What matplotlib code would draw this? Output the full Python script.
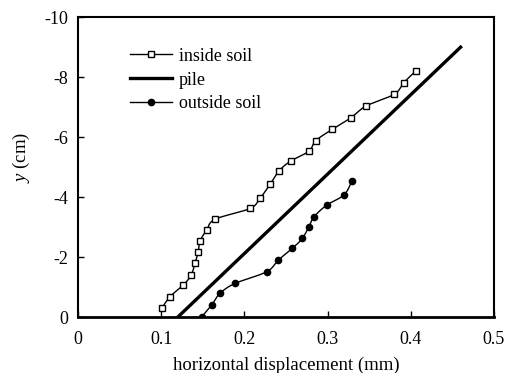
import numpy as np
import matplotlib
matplotlib.use("Agg")
import matplotlib.pyplot as plt

plt.rcParams['font.family'] = ['Liberation Serif', 'DejaVu Serif']
plt.rcParams['mathtext.fontset'] = 'custom'
plt.rcParams['mathtext.it'] = 'Liberation Serif:italic'
plt.rcParams['mathtext.rm'] = 'Liberation Serif'

# measured displacement profiles (x in mm, depth y in cm)
inside_x = [0.1006, 0.1106, 0.1266, 0.136, 0.1406, 0.1446, 0.1466, 0.1547, 0.1647,
            0.2067, 0.2188, 0.2308, 0.2416, 0.2556, 0.2776, 0.2857, 0.3057, 0.3278,
            0.3458, 0.3802, 0.3918, 0.4063]
inside_y = [-0.29, -0.68, -1.07, -1.4, -1.79, -2.18, -2.53, -2.9, -3.26,
            -3.62, -3.96, -4.42, -4.87, -5.2, -5.53, -5.88, -6.26, -6.64,
            -7.03, -7.43, -7.82, -8.21]

pile_x = [0.12, 0.46]
pile_y = [0.0, -9.0]

outside_x = [0.1486, 0.1607, 0.1707, 0.1887, 0.2268, 0.2408, 0.2576, 0.2696,
             0.2776, 0.2837, 0.2989, 0.3197, 0.3293]
outside_y = [0.0, -0.4, -0.79, -1.12, -1.51, -1.9, -2.29, -2.62,
             -3.01, -3.34, -3.73, -4.07, -4.53]


def smooth(xs, ys, n=20):
    # Catmull-Rom style bezier smoothing through every point
    p = np.column_stack([xs, ys])
    p = np.vstack([p[0], p, p[-1]])
    out = []
    t = np.linspace(0, 1, n)[:, None]
    for i in range(1, len(p) - 2):
        p0, p1, p2, p3 = p[i - 1], p[i], p[i + 1], p[i + 2]
        c1 = p1 + (p2 - p0) / 6
        c2 = p2 - (p3 - p1) / 6
        seg = ((1 - t) ** 3) * p1 + 3 * ((1 - t) ** 2) * t * c1 \
            + 3 * (1 - t) * t ** 2 * c2 + t ** 3 * p2
        out.append(seg)
    out = np.vstack(out)
    return out[:, 0], out[:, 1]


fig = plt.figure(figsize=(5.15, 3.73), dpi=100)
ax = fig.add_axes([0.1515, 0.150, 0.8075, 0.804])

sx, sy = smooth(inside_x, inside_y)
ax.plot(sx, sy, color='black', lw=1.0)
ax.plot(inside_x, inside_y, ls='none', marker='s', ms=4.2, mfc='white',
        mec='black', mew=1.0)
ax.plot(pile_x, pile_y, color='black', lw=2.4)
sx, sy = smooth(outside_x, outside_y)
ax.plot(sx, sy, color='black', lw=1.0)
ax.plot(outside_x, outside_y, ls='none', marker='o', ms=4.5, mfc='black',
        mec='black')

# legend proxies
h1, = ax.plot([], [], color='black', lw=1.0, marker='s', ms=4.2, mfc='white', mew=1.0)
h2, = ax.plot([], [], color='black', lw=2.4)
h3, = ax.plot([], [], color='black', lw=1.0, marker='o', ms=4.5)
ax.legend([h1, h2, h3], ['inside soil', 'pile', 'outside soil'],
          loc='upper left', bbox_to_anchor=(0.125, 0.898), frameon=False,
          fontsize=13, handlelength=2.3, handletextpad=0.4, labelspacing=0.38,
          borderaxespad=0, borderpad=0)

ax.set_xlim(0, 0.5)
ax.set_ylim(0, -10)
ax.set_xticks([0, 0.1, 0.2, 0.3, 0.4, 0.5])
ax.set_xticklabels(['0', '0.1', '0.2', '0.3', '0.4', '0.5'])
ax.set_yticks([0, -2, -4, -6, -8, -10])
ax.set_yticklabels(['0', '-2', '-4', '-6', '-8', '-10'])
ax.tick_params(direction='in', length=4, width=1, labelsize=13)
ax.tick_params(axis='x', pad=10)
ax.tick_params(axis='y', pad=7)
for s in ax.spines.values():
    s.set_linewidth(1.5)
ax.spines['bottom'].set_linewidth(2.0)
ax.set_xlabel('horizontal displacement (mm)', fontsize=13.5, labelpad=6)
ax.set_ylabel('$y$ (cm)', fontsize=13.5)
ax.yaxis.set_label_coords(-0.11, 0.533)

fig.savefig('out.png', dpi=100)
plt.close(fig)
